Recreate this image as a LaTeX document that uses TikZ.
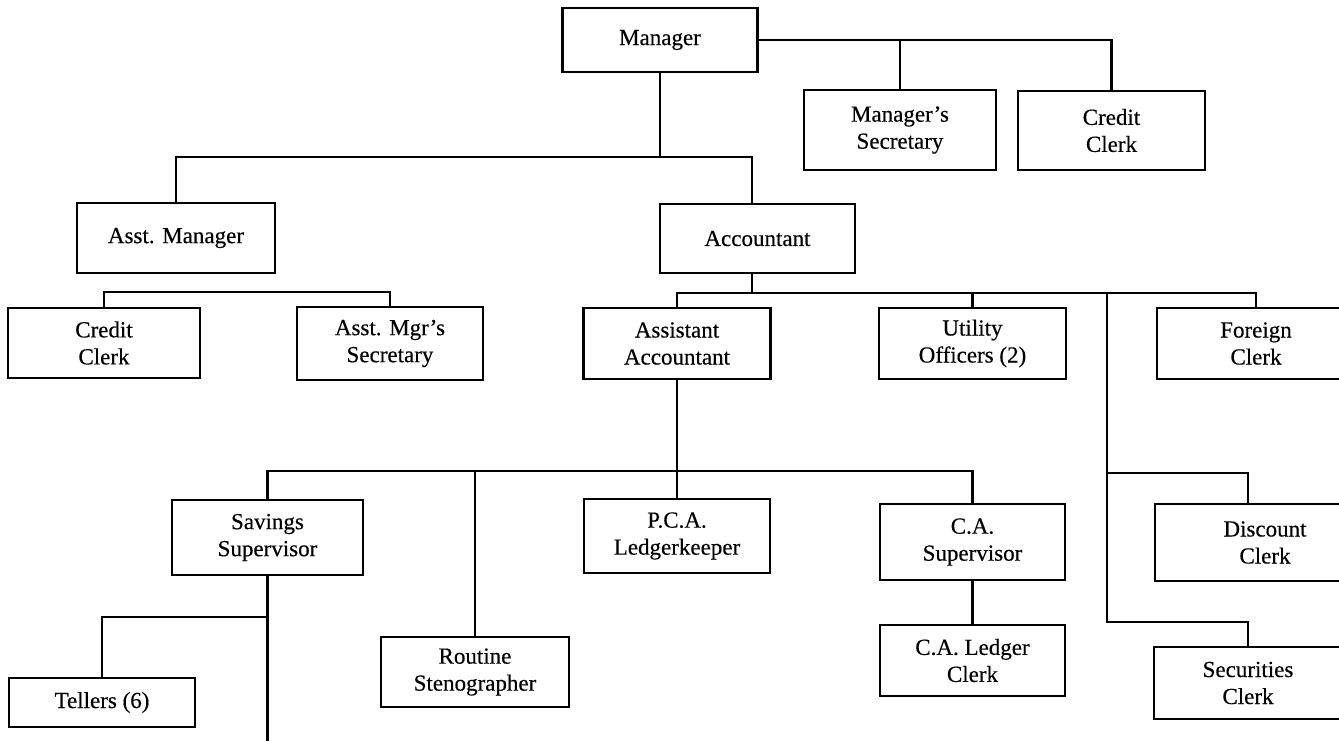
\documentclass[tikz,border=0pt]{standalone}
\usepackage{fontspec}
\setmainfont{Liberation Serif}
\newfontfamily\boxfont[FakeBold=0.35]{Liberation Serif}
\begin{document}
\begin{tikzpicture}[x=1pt,y=-1pt,
  box/.style={draw,line width=2.2pt,rectangle,inner sep=0pt,align=center,
    font=\boxfont\fontsize{23}{27}\selectfont},
  link/.style={line width=2.1pt}]
\useasboundingbox (0,0) rectangle (1339,741);
\clip (0,0) rectangle (1339,741);
% nodes
\node[box,minimum width=195pt,minimum height=64pt] (mgr) at (660,40) {Manager};
\node[box,minimum width=192pt,minimum height=80pt] (msec) at (900,130) {Manager’s\\Secretary};
\node[box,minimum width=187pt,minimum height=79pt] (cc1) at (1111.5,130.5) {Credit\\Clerk};
\node[box,minimum width=198pt,minimum height=70pt] (am) at (176,238) {Asst. Manager};
\node[box,minimum width=195pt,minimum height=69pt] (acc) at (757.5,238.5) {Accountant};
\node[box,minimum width=192pt,minimum height=70pt] (cc2) at (104,343) {Credit\\Clerk};
\node[box,minimum width=186pt,minimum height=73pt] (amsec) at (390,343.5) {Asst. Mgr’s\\Secretary};
\node[box,minimum width=187pt,minimum height=71pt] (aa) at (677,343.5) {Assistant\\Accountant};
\node[box,minimum width=187pt,minimum height=71pt] (uo) at (972.5,343.5) {Utility\\Officers (2)};
\node[box,minimum width=198pt,minimum height=71pt] (fc) at (1256,343.5) {Foreign\\Clerk};
\node[box,minimum width=191pt,minimum height=75pt] (ss) at (267.5,537.5) {Savings\\Supervisor};
\node[box,minimum width=186pt,minimum height=74pt] (pca) at (677,536) {P.C.A.\\Ledgerkeeper};
\node[box,minimum width=185pt,minimum height=76pt] (cas) at (972.5,542) {C.A.\\Supervisor};
\node[box,minimum width=220pt,minimum height=77pt] (dc) at (1265,542.5) {Discount\\Clerk};
\node[box,minimum width=188pt,minimum height=72pt] (sec) at (1248,683) {Securities\\Clerk};
\node[box,minimum width=185pt,minimum height=71pt] (cal) at (972.5,660.5) {C.A. Ledger\\Clerk};
\node[box,minimum width=188pt,minimum height=70pt] (rs) at (475,672) {Routine\\Stenographer};
\node[box,minimum width=186pt,minimum height=49pt] (tel) at (102,702.5) {Tellers (6)};
% junction coordinates
\coordinate (j1) at (660,157);
\coordinate (accin) at (752,204);
\coordinate (accout) at (752,273);
\coordinate (ab) at (752,293);
\coordinate (v1) at (1107,293);
\coordinate (vd) at (1107,473);
\coordinate (v2) at (1107,622);
\coordinate (bar) at (677,471);
\coordinate (sj) at (267.5,617);
\coordinate (ssend) at (267.5,750);
% connectors
\draw[link] (mgr.east) -| (cc1.north);
\draw[link] (msec.north) -- (msec.north |- mgr.east);
\draw[link] (mgr.south) -- (j1);
\draw[link] (am.north) |- (j1) -| (accin);
\draw[link] (cc2.north) -- ++(0,-15) -| (amsec.north);
\draw[link] (accout) -- (ab);
\draw[link] (aa.north) |- (ab) -| (fc.north);
\draw[link] (uo.north) -- (uo.north |- ab);
\draw[link] (v1) -- (v2) -| (sec.north);
\draw[link] (vd) -| ([xshift=-17pt]dc.north);
\draw[link] (aa.south) -- (pca.north);
\draw[link] (ss.north) |- (bar) -| (cas.north);
\draw[link] (rs.north) -- (rs.north |- bar);
\draw[link] (cas.south) -- (cal.north);
\draw[link] (ss.south) -- (ssend);
\draw[link] (sj) -| (tel.north);
\end{tikzpicture}
\end{document}
